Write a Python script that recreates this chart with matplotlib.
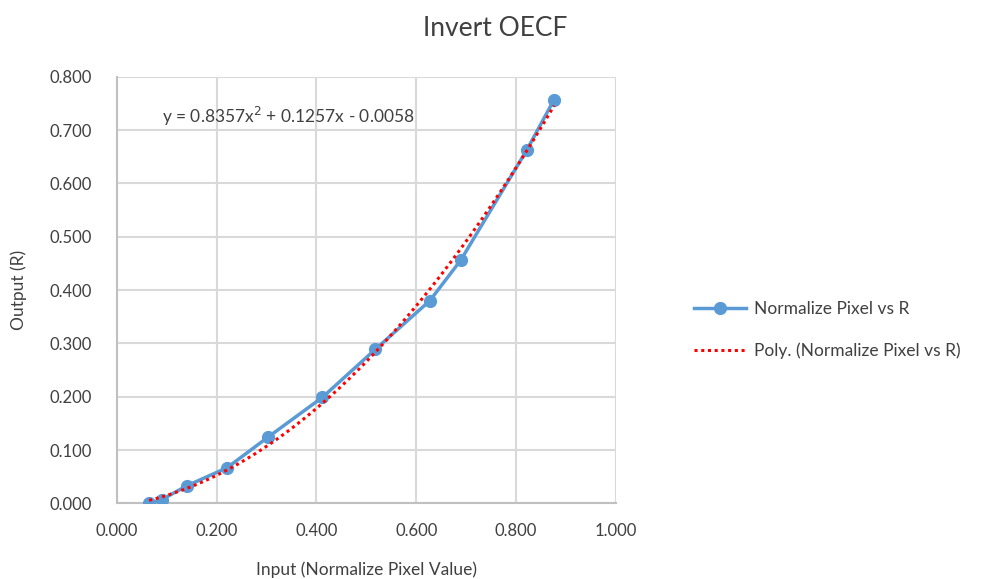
import numpy as np
import matplotlib.pyplot as plt
from matplotlib.ticker import FormatStrFormatter

# valeurs
pixel_norm = [0.065, 0.090, 0.140, 0.221, 0.304, 0.412, 0.518, 0.627, 0.689, 0.821, 0.876]
output_r = [0.000, 0.007, 0.033, 0.067, 0.125, 0.199, 0.289, 0.380, 0.456, 0.662, 0.757]

# coefficients de la courbe de tendance (polynôme ordre 2)
poly_coef = [0.8357, 0.1257, -0.0058]
equation = "y = 0.8357x$^2$ + 0.1257x - 0.0058"

plt.rcParams['font.family'] = ['Lato', 'DejaVu Sans']

fig = plt.figure(figsize=(9.94, 5.79), dpi=100)
ax = fig.add_axes([0.1174, 0.1304, 0.5023, 0.7371])

ax.plot(pixel_norm, output_r, color='#5B9BD5', linewidth=2.5, marker='o',
        markersize=8.5, label='Normalize Pixel vs R', zorder=3)

x_fit = np.linspace(min(pixel_norm), max(pixel_norm), 200)
y_fit = np.polyval(poly_coef, x_fit)
ax.plot(x_fit, y_fit, color='#FF0000', linestyle=(0, (1, 1.2)), linewidth=2.2,
        label='Poly. (Normalize Pixel vs R)', zorder=4)

ax.set_xlim(0, 1.0)
ax.set_ylim(0, 0.8)
ax.set_xticks(np.arange(0, 1.01, 0.2))
ax.set_yticks(np.arange(0, 0.81, 0.1))
ax.xaxis.set_major_formatter(FormatStrFormatter('%.3f'))
ax.yaxis.set_major_formatter(FormatStrFormatter('%.3f'))
ax.tick_params(length=0, labelsize=12, colors='#404040')
ax.tick_params(axis='y', pad=18)
ax.tick_params(axis='x', pad=14)

ax.grid(True, color='#d9d9d9', linewidth=1.5)
ax.set_axisbelow(True)
for s in ['top', 'right']:
    ax.spines[s].set_visible(False)
for s in ['left', 'bottom']:
    ax.spines[s].set_color('#c0c0c0')
    ax.spines[s].set_linewidth(1.5)

ax.set_xlabel("Input (Normalize Pixel Value)", fontsize=12.5, color='#404040', labelpad=16)
ax.set_ylabel("Output (R)", fontsize=12.5, color='#404040', labelpad=16)

ax.text(0.09, 0.725, equation, fontsize=12.5, color='#404040', va='center', ha='left')

fig.text(0.498, 0.951, "Invert OECF", fontsize=19, color='#404040', ha='center', va='center')

fig.legend(loc='center left', bbox_to_anchor=(0.682, 0.43), frameon=False,
           fontsize=12.5, labelcolor='#404040', handlelength=3.0, labelspacing=1.5,
           handletextpad=0.5)

fig.savefig('out.png', dpi=100)
